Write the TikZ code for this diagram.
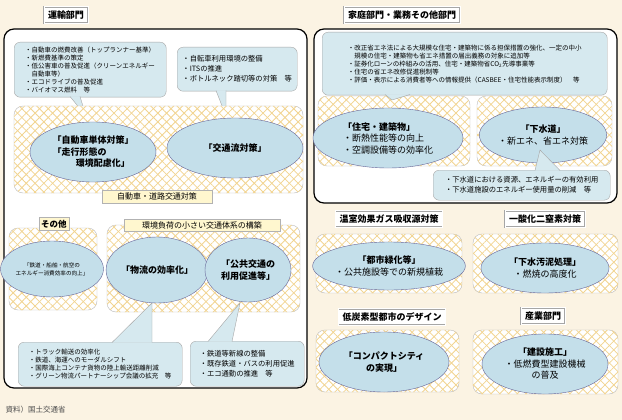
\documentclass[tikz,border=0pt]{standalone}
\usepackage{fontspec}
\setmainfont{Noto Sans CJK JP}
\usetikzlibrary{shapes.geometric,patterns.meta}
\definecolor{cream}{HTML}{FBF3E3}
\definecolor{hatch}{HTML}{F2D490}
\definecolor{callfill}{HTML}{D6E9EF}
\definecolor{ellfill}{HTML}{C4DFEA}
\definecolor{labfill}{HTML}{FFF7CF}
\tikzset{
  bigbox/.style={draw=black,line width=1.2pt,rounded corners=10pt,fill=white},
  hatchbox/.style={draw=gray!55,rounded corners=9pt,fill=white,
    postaction={pattern={Lines[angle=45,distance=6.2pt,line width=0.8pt]},pattern color=hatch},
    postaction={pattern={Lines[angle=-45,distance=6.2pt,line width=0.8pt]},pattern color=hatch}},
  titlebox/.style={draw=gray!70,double=white,double distance=1pt,fill=white,font=\bfseries\fontsize{9}{10}\selectfont,inner sep=4pt},
  labbox/.style={draw=gray!60,fill=labfill,font=\fontsize{8}{9}\selectfont,inner sep=2.5pt},
  callout/.style={draw=gray!70,fill=callfill,rounded corners=6pt,align=left,font=\fontsize{6.5}{8}\selectfont,inner sep=3pt,anchor=north west},
  pointer/.style={draw=gray!70,fill=callfill},
  oval/.style={ellipse,draw=gray!80!blue,fill=ellfill,align=center,font=\bfseries\fontsize{9}{11.5}\selectfont,inner sep=0pt},
}
\begin{document}
\begin{tikzpicture}[x=1pt,y=-1pt]
\fill[cream] (0,0) rectangle (622,420);
\useasboundingbox (0,0) rectangle (622,420);
% transport sector
\draw[bigbox] (4,29) rectangle (307,388);
\node[titlebox] (tTrans) at (66,15) {運輸部門};
\node[callout,minimum width=152pt,minimum height=55pt] (cCar) at (14,42) {・自動車の燃費改善（トップランナー基準）\\・新燃費基準の策定\\・低公害車の普及促進（クリーンエネルギー\\\phantom{・}自動車等）\\・エコドライブの普及促進\\・バイオマス燃料　等};
\filldraw[pointer] (70,96.5) -- (86,116) -- (80,96.5);
\node[callout,font=\fontsize{7.3}{10}\selectfont,minimum width=120pt,minimum height=44pt] (cFlow) at (177,47) {・自転車利用環境の整備\\・ITSの推進\\・ボトルネック踏切等の対策　等};
\filldraw[pointer] (216,90.5) -- (226,116) -- (226,90.5);
\draw[hatchbox] (14,106) rectangle (303,193);
\node[oval,minimum width=126pt,minimum height=60pt,align=left] (eCar) at (93,152) {「自動車単体対策」\\「走行形態の\\\hspace{2.6em}環境配慮化」};
\node[oval,minimum width=136pt,minimum height=60pt] (eFlow) at (235,148) {「交通流対策」};
\node[labbox,minimum width=110pt] (lRoad) at (157,196.5) {自動車・道路交通対策};
\draw[hatchbox] (9,228) rectangle (97,310);
\node[labbox,font=\bfseries\fontsize{8.5}{9}\selectfont] (lOther) at (54,224) {その他};
\node[oval,minimum width=76pt,minimum height=56pt,font=\fontsize{5.6}{8}\selectfont] (eOther) at (52,269) {「鉄道・船舶・航空の\\エネルギー消費効率の向上」};
\draw[hatchbox] (107,225) rectangle (300,312);
\node[labbox,minimum width=156pt] (lSys) at (202,225) {環境負荷の小さい交通体系の構築};
\node[oval,minimum width=80pt,minimum height=66pt] (eLog) at (157,270) {「物流の効率化」};
\node[oval,minimum width=86pt,minimum height=64pt] (ePub) at (248,270) {「公共交通の\\利用促進等」};
\node[callout,minimum width=164pt,minimum height=44pt] (cLog) at (18,342) {・トラック輸送の効率化\\・鉄道、海運へのモーダルシフト\\・国際海上コンテナ貨物の陸上輸送距離削減\\・グリーン物流パートナーシップ会議の拡充　等};
\filldraw[pointer] (112,342.5) -- (152,303) -- (152,342.5);
\node[callout,font=\fontsize{7.3}{10}\selectfont,minimum width=114pt,minimum height=45pt] (cPub) at (190,341) {・鉄道等新線の整備\\・既存鉄道・バスの利用促進\\・エコ通勤の推進　等};
\filldraw[pointer] (208,341.5) -- (240,303) -- (232,341.5);
% household sector
\draw[bigbox] (314,29) rectangle (617,203);
\node[titlebox] (tHome) at (402,15) {家庭部門・業務その他部門};
\node[callout,minimum width=285pt,minimum height=63pt] (cHouse) at (322,32) {・改正省エネ法による大規模な住宅・建築物に係る担保措置の強化、一定の中小\\\phantom{・}規模の住宅・建築物も省エネ措置の届出義務の対象に追加等\\・証券化ローンの枠組みの活用、住宅・建築物省CO\textsubscript{2}先導事業等\\・住宅の省エネ改修促進税制等\\・評価・表示による消費者等への情報提供（CASBEE・住宅性能表示制度）　等};
\draw[hatchbox] (318,96) rectangle (470,166);
\draw[hatchbox] (477,96) rectangle (612,166);
\filldraw[pointer] (385,94.5) -- (392,100) -- (410,94.5);
\node[oval,minimum width=150pt,minimum height=60pt,align=left] (eHouse) at (388,138) {「住宅・建築物」\\\textmd{・断熱性能等の向上}\\\textmd{・空調設備等の効率化}};
\node[oval,minimum width=126pt,minimum height=56pt] (eSewer) at (543,135) {「下水道」\\\textmd{・新エネ、省エネ対策}};
\node[callout,font=\fontsize{7.3}{10}\selectfont,minimum width=177pt,minimum height=30pt] (cSewer) at (433,170) {・下水道における資源、エネルギーの有効利用\\・下水道施設のエネルギー使用量の削減　等};
\filldraw[pointer] (535,170.5) -- (540,150) -- (560,170.5);
% other measures
\node[titlebox] (tSink) at (389,219) {温室効果ガス吸収源対策};
\draw[hatchbox] (316,234) rectangle (462,293);
\node[oval,minimum width=132pt,minimum height=48pt] (eGreen) at (389,266) {「都市緑化等」\\\textmd{・公共施設等での新規植栽}};
\node[titlebox] (tN2O) at (545,219) {一酸化二窒素対策};
\draw[hatchbox] (473,234) rectangle (618,293);
\node[oval,minimum width=128pt,minimum height=50pt] (eSludge) at (545,268) {「下水汚泥処理」\\\textmd{・燃焼の高度化}};
\node[titlebox] (tCity) at (392,317) {低炭素型都市のデザイン};
\draw[hatchbox] (316,330) rectangle (459,392);
\node[oval,minimum width=130pt,minimum height=60pt] (eCompact) at (384,362) {「コンパクトシティ\\の実現」};
\node[titlebox] (tInd) at (543,316) {産業部門};
\draw[hatchbox] (473,330) rectangle (618,394);
\node[oval,minimum width=126pt,minimum height=60pt] (eBuild) at (545,364) {「建設施工」\\\textmd{・低燃費型建設機械}\\\textmd{の普及}};
\node[anchor=west,font=\fontsize{7.5}{9}\selectfont,text=black!70] (src) at (2,410) {資料）国土交通省};
\end{tikzpicture}
\end{document}
